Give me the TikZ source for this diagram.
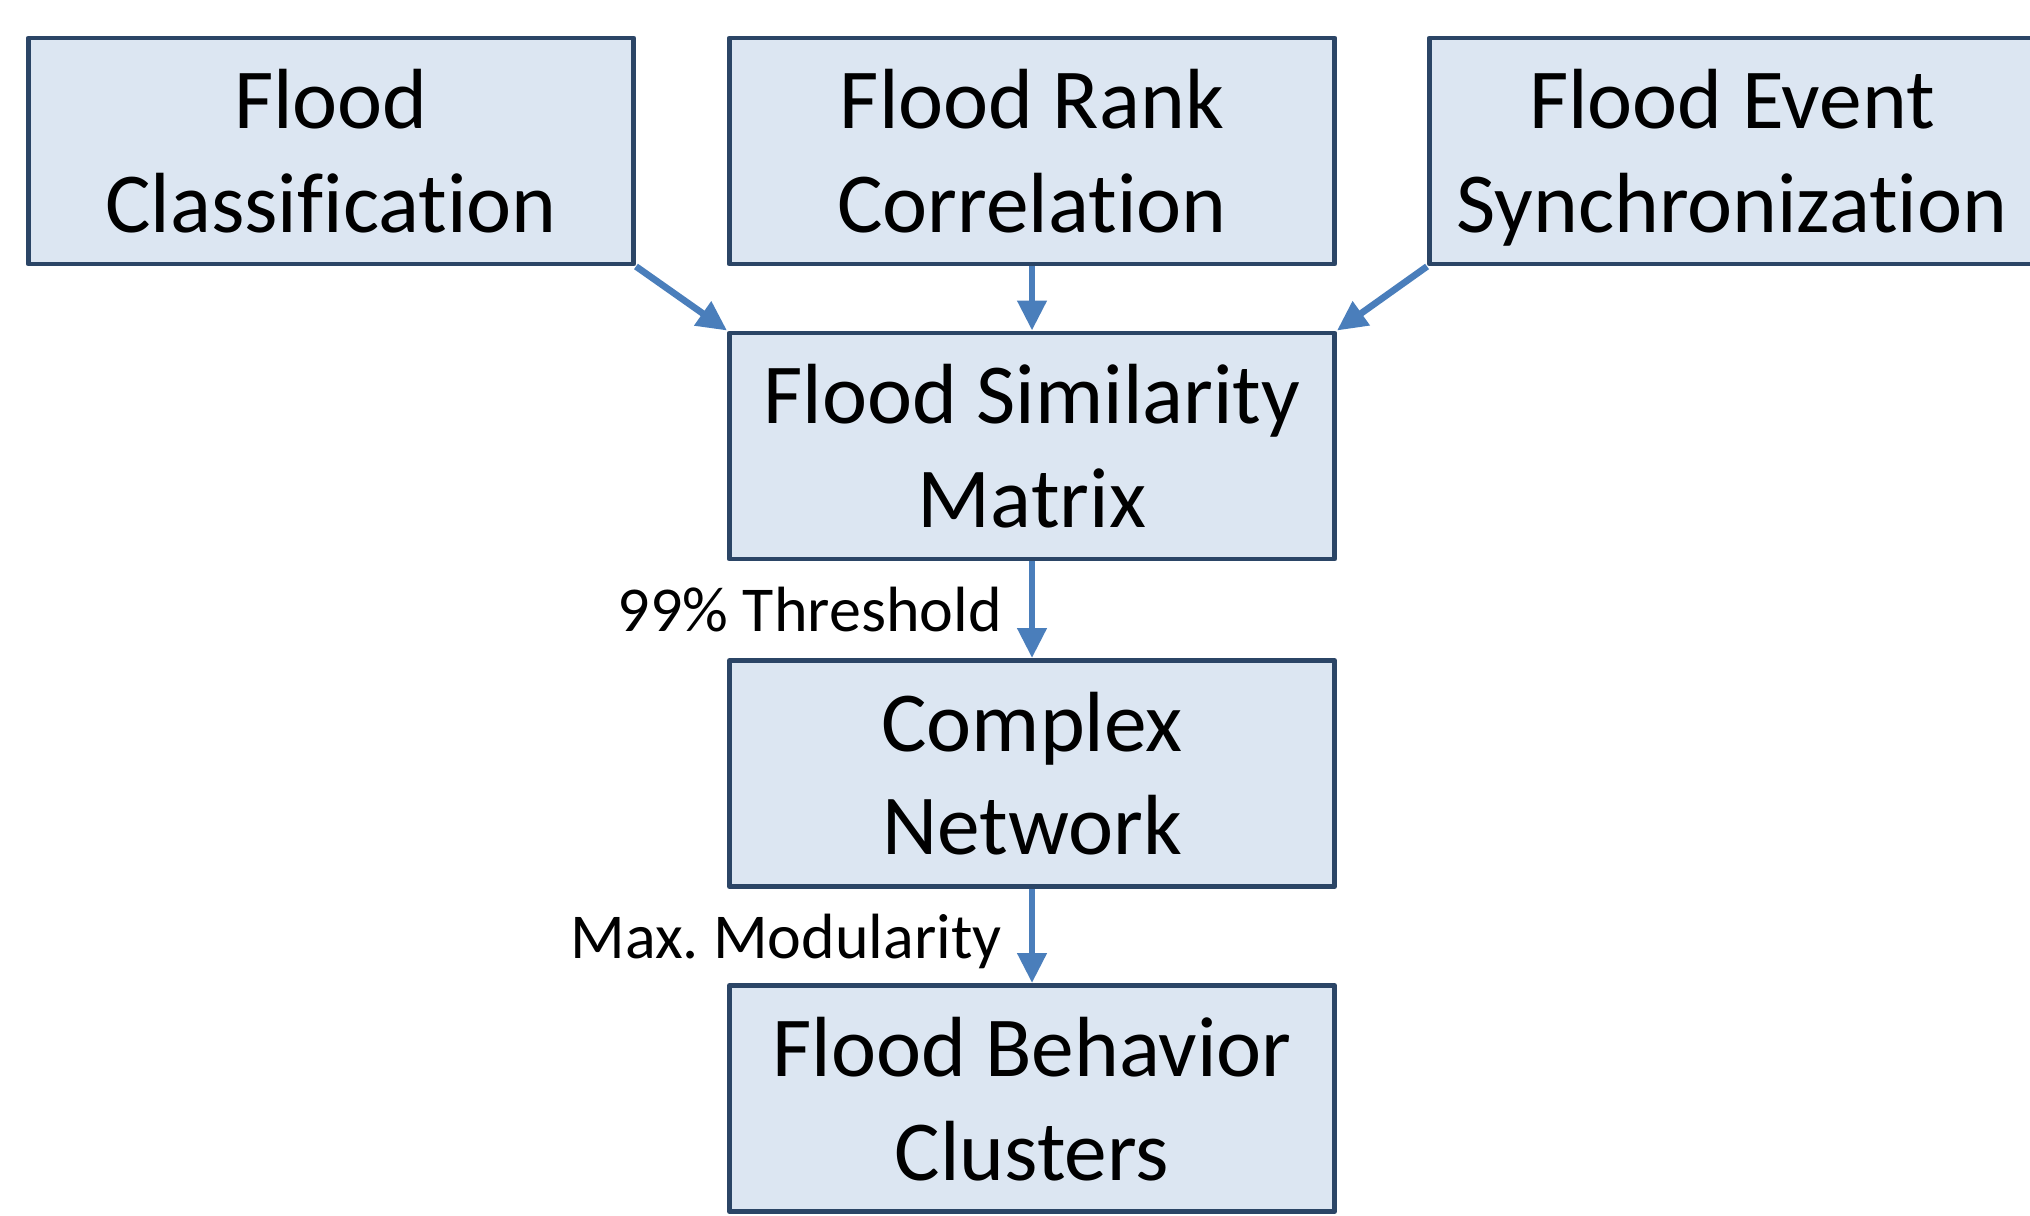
\documentclass[tikz,border=0pt]{standalone}
\usepackage{fontspec}
\setmainfont[Ligatures=NoCommon]{Carlito}
\usetikzlibrary{arrows.meta}
\definecolor{boxfill}{HTML}{DCE6F2}
\definecolor{boxline}{HTML}{2B4566}
\definecolor{arrowblue}{HTML}{4A7EBB}
\tikzset{
	stage/.style={draw=boxline, fill=boxfill, line width=1.4pt, minimum width=6.05cm, minimum height=2.26cm, align=center, inner sep=0pt, text depth=0pt, font=\fontsize{24.3}{29.5}\selectfont},
	flow/.style={->, draw=arrowblue, line width=1.9pt},
	steplabel/.style={anchor=east, inner sep=0pt, text depth=0pt, xshift=-0.27cm, font=\fontsize{18.2}{21}\selectfont}
}
\begin{document}
\begin{tikzpicture}[>={Triangle[length=8.5pt,width=8pt]}, line join=round]
		\useasboundingbox (0,0) rectangle (20.3,-12.16);
		%\draw[gray!30] (0,0) grid (20.3,-12.16);
		\node[stage] (class) at (3.31,-1.51) {Flood\\Classification};
		\node[stage] (rank) at (10.32,-1.51) {Flood Rank\\Correlation};
		\node[stage] (sync) at (17.32,-1.51) {Flood Event\\Synchronization};
		\node[stage] (simil) at (10.32,-4.46) {Flood Similarity\\Matrix};
		\node[stage] (netw) at (10.32,-7.735) {Complex\\Network};
		\node[stage] (clust) at (10.32,-10.985) {Flood Behavior\\Clusters};
		% arrows
		\draw[flow] (class.south east)--(simil.north west);
		\draw[flow] (rank.south)--(simil.north);
		\draw[flow] (sync.south west)--(simil.north east);
		\draw[flow] (simil.south)--(netw.north) node[midway,steplabel]{99\% Threshold};
		\draw[flow] (netw.south)--(clust.north) node[midway,steplabel]{Max.\ Modularity};
	\end{tikzpicture}
\end{document}
